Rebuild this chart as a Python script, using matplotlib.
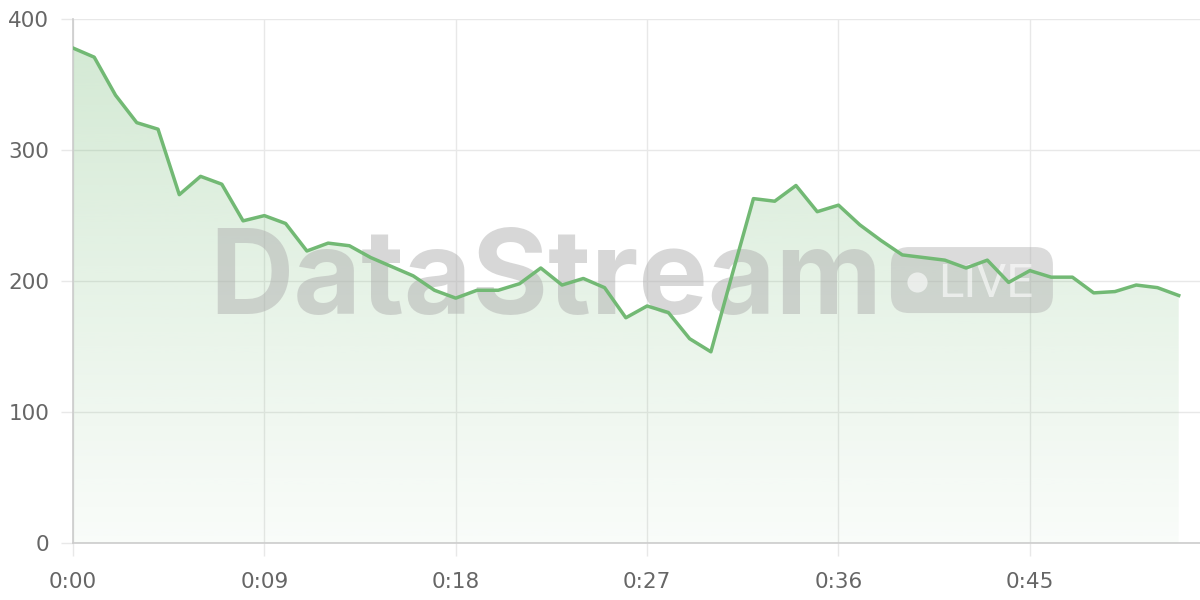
import numpy as np
import matplotlib.pyplot as plt
from matplotlib.patches import FancyBboxPatch

# valori (uno al minuto)
minutes = list(range(53))
values = [378, 371, 342, 321, 316, 266, 280, 274, 246, 250,
          244, 223, 229, 227, 218, 211, 204, 193, 187, 193,
          193, 198, 210, 197, 202, 195, 172, 181, 176, 156,
          146, 205, 263, 261, 273, 253, 258, 243, 231, 220,
          218, 216, 210, 216, 199, 208, 203, 203, 191, 192,
          197, 195, 189]
tick_pos = [0, 9, 18, 27, 36, 45]
tick_labels = ['0:00', '0:09', '0:18', '0:27', '0:36', '0:45']
y_ticks = [0, 100, 200, 300, 400]

plt.rcParams['font.family'] = ['Roboto', 'DejaVu Sans']

fig = plt.figure(figsize=(12, 6), dpi=100)
ax = fig.add_axes([0.0608, 0.095, 0.9392, 0.873])

line_color = '#72b974'
x = np.array(minutes)
y = np.array(values)
x_max = 53

ax.set_xlim(0, x_max)
ax.set_ylim(0, 400)

# riempimento sfumato sotto la curva
poly = ax.fill_between(x, y, 0, color='none', lw=0)
grad = np.linspace(0.04, 0.32, 256).reshape(-1, 1)
rgba = np.zeros((256, 1, 4))
rgba[..., 0] = 0x72 / 255
rgba[..., 1] = 0xb9 / 255
rgba[..., 2] = 0x74 / 255
rgba[..., 3] = grad
img = ax.imshow(rgba, aspect='auto', extent=[0, x_max, 0, 400],
                origin='lower', zorder=1)
img.set_clip_path(poly.get_paths()[0], transform=ax.transData)

# watermark
ax.text(0.121, 0.437, 'DataStream', transform=ax.transAxes,
        fontsize=84, fontweight='bold', color='#b0b0b0', alpha=0.5,
        ha='left', va='baseline', zorder=2, family=['Inter', 'DejaVu Sans'])
pill = FancyBboxPatch((0.7258, 0.439), 0.1437, 0.126, transform=ax.transAxes,
                      boxstyle='round,pad=0,rounding_size=0.016',
                      fc='#b0b0b0', ec='none', alpha=0.45, zorder=2,
                      mutation_aspect=2.15)
ax.add_patch(pill)
ax.plot([0.749], [0.498], 'o', ms=14.5, color='white', alpha=0.6,
        mec='none', transform=ax.transAxes, zorder=2)
ax.text(0.7675, 0.469, 'LIVE', transform=ax.transAxes, fontsize=34,
        color='white', alpha=0.6, ha='left', va='baseline', zorder=2)

ax.plot(x, y, color=line_color, lw=2.5, zorder=3, solid_joinstyle='round')

# griglia e assi
ax.set_xticks(tick_pos)
ax.set_xticklabels(tick_labels)
ax.set_yticks(y_ticks)
ax.grid(True, color='#e8e8e8', lw=1)
ax.set_axisbelow(True)
for s in ['top', 'right']:
    ax.spines[s].set_visible(False)
for s in ['left', 'bottom']:
    ax.spines[s].set_color('#cccccc')
    ax.spines[s].set_linewidth(1.2)
ax.tick_params(axis='both', colors='#e8e8e8', labelcolor='#666666',
               labelsize=15.5, length=9, width=1)
ax.tick_params(axis='y', pad=8)
ax.tick_params(axis='x', pad=12)
for lab in ax.get_xticklabels() + ax.get_yticklabels():
    lab.set_fontfamily('DejaVu Sans')

fig.savefig('out.png', dpi=100)
